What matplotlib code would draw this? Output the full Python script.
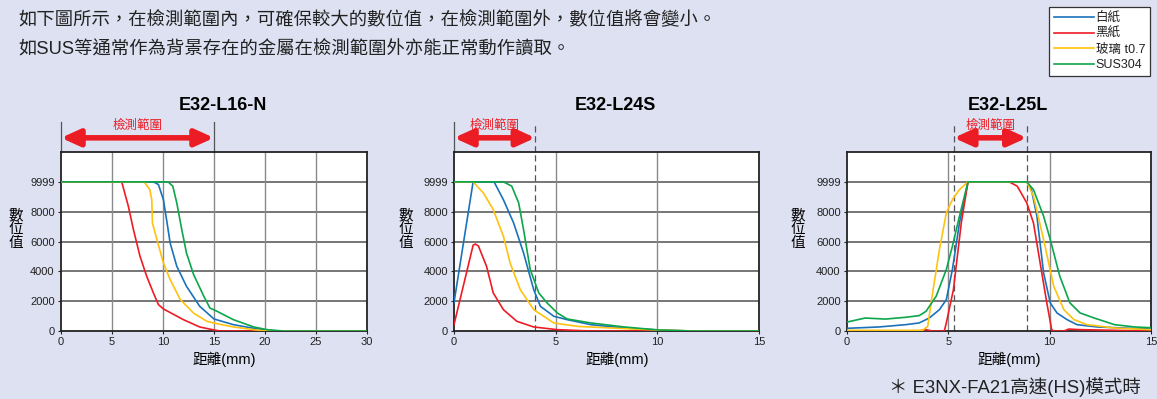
import numpy as np
import matplotlib
matplotlib.use("Agg")
import matplotlib.pyplot as plt
from matplotlib import font_manager
from matplotlib.lines import Line2D

# fonts: latin in an Arial-like face, CJK falls back to Noto
plt.rcParams['font.family'] = ['Liberation Sans', 'Noto Sans CJK TC', 'DejaVu Sans']
installed = {f.name for f in font_manager.fontManager.ttflist}
tick_family = ['Liberation Sans Narrow'] if 'Liberation Sans Narrow' in installed else ['Liberation Sans']

# colours
bg_color = '#dde1f1'
c_white = '#1a72bb'
c_black = '#ed1c24'
c_glass = '#ffc20e'
c_sus = '#0ca64b'
arrow_red = '#ec1c24'

series_names = ['白紙', '黑紙', '玻璃 t0.7', 'SUS304']

# ---- E32-L16-N ----
l16_white_x = [0, 9.06, 9.55, 10.04, 10.4, 10.7, 11.35, 12.3, 13.6, 15.0, 16.9, 18.9, 20.2, 21.2, 30]
l16_white_y = [9999, 9999, 9820, 8800, 7250, 5900, 4340, 3000, 1655, 805, 425, 180, 45, 0, 0]
l16_black_x = [0, 5.95, 6.6, 7.1, 7.75, 8.4, 9.06, 9.55, 10.04, 12.0, 13.6, 15.0, 15.6, 30]
l16_black_y = [9999, 9999, 8370, 6800, 5000, 3670, 2550, 1770, 1480, 760, 270, 70, 0, 0]
l16_glass_x = [0, 8.15, 8.7, 8.9, 8.96, 9.4, 10.04, 10.7, 11.7, 13.0, 14.3, 15.3, 16.9, 18.9, 20.2, 30]
l16_glass_y = [9999, 9999, 9480, 8800, 7250, 6130, 4560, 3445, 2100, 1200, 650, 490, 270, 90, 0, 0]
l16_sus_x = [0, 10.5, 10.96, 11.35, 11.84, 12.3, 13.0, 14.0, 14.6, 15.3, 16.9, 18.9, 20.2, 21.8, 30]
l16_sus_y = [9999, 9999, 9710, 8590, 6800, 5235, 3780, 2330, 1540, 1320, 760, 270, 90, 0, 0]

# ---- E32-L24S ----
l24_white_x = [0, 0.94, 1.97, 2.43, 2.93, 3.42, 3.92, 4.25, 4.91, 5.57, 6.73, 8.38, 10.04, 11.7, 15]
l24_white_y = [1900, 9999, 9999, 8800, 7250, 5235, 2770, 1655, 985, 760, 425, 200, 70, 0, 0]
l24_black_x = [0, 0.94, 1.05, 1.2, 1.6, 1.93, 2.43, 3.09, 3.92, 5.08, 6.73, 15]
l24_black_y = [425, 5750, 5830, 5700, 4340, 2550, 1430, 650, 270, 90, 0, 0]
l24_glass_x = [0, 0.94, 1.44, 1.93, 2.43, 2.76, 3.26, 3.92, 4.91, 6.07, 8.38, 10.04, 11.7, 15]
l24_glass_y = [9999, 9999, 9260, 8140, 6350, 4560, 2770, 1430, 540, 310, 160, 70, 0, 0]
l24_sus_x = [0, 2.43, 2.84, 3.18, 3.42, 3.75, 4.17, 4.58, 5.08, 5.57, 6.73, 8.38, 10.04, 11.7, 15]
l24_sus_y = [9999, 9999, 9710, 8590, 6800, 4116, 2550, 1880, 1210, 805, 540, 270, 70, 0, 0]

# ---- E32-L25L ----
l25_white_x = [0, 1.57, 2.9, 3.56, 4.06, 4.56, 4.9, 5.2, 5.55, 5.97, 8.87, 9.1, 9.37, 9.7, 10.03,
               10.36, 10.86, 11.35, 12.35, 14.0, 15]
l25_white_y = [180, 270, 425, 540, 870, 1430, 2100, 4120, 7250, 9999, 9999, 9480, 7700, 3900, 1880,
               1210, 760, 425, 270, 180, 130]
l25_black_x = [0, 3.5, 3.9, 4.2, 4.8, 4.9, 5.25, 5.64, 5.97, 8.0, 8.4, 8.87, 9.2, 9.53, 9.86,
               10.1, 10.2, 10.7, 10.94, 11.5, 15]
l25_black_y = [0, 0, 90, 0, 0, 540, 2770, 7250, 9999, 9999, 9710, 8590, 7250, 4560, 1880,
               90, 0, 0, 130, 90, 0]
l25_glass_x = [0, 3.73, 3.98, 4.2, 4.56, 4.9, 5.2, 5.55, 5.97, 8.87, 9.2, 9.7, 10.2, 10.7, 11.2,
               11.85, 13.2, 15]
l25_glass_y = [45, 45, 310, 2330, 5460, 7920, 8810, 9480, 9999, 9999, 9040, 6130, 3000, 1430, 760,
               425, 200, 90]
l25_sus_x = [0, 0.9, 1.9, 2.9, 3.56, 3.9, 4.4, 4.9, 5.2, 5.55, 5.97, 8.87, 9.2, 9.7, 10.03, 10.5,
             11.0, 11.5, 12.2, 13.2, 14.2, 15]
l25_sus_y = [600, 870, 800, 920, 1030, 1320, 2330, 4120, 5680, 7700, 9999, 9999, 9480, 7700, 6130, 3670,
             1880, 1210, 870, 425, 270, 220]

# panel settings
titles = ['E32-L16-N', 'E32-L24S', 'E32-L25L']
x_max = [30, 15, 15]
x_ticks = [[0, 5, 10, 15, 20, 25, 30], [0, 5, 10, 15], [0, 5, 10, 15]]
range_lo = [0, 0, 5.27]
range_hi = [15, 4, 8.87]
y_ticks = [0, 2000, 4000, 6000, 8000, 9999]

panel_data = [
    [(l16_white_x, l16_white_y), (l16_black_x, l16_black_y), (l16_glass_x, l16_glass_y), (l16_sus_x, l16_sus_y)],
    [(l24_white_x, l24_white_y), (l24_black_x, l24_black_y), (l24_glass_x, l24_glass_y), (l24_sus_x, l24_sus_y)],
    [(l25_white_x, l25_white_y), (l25_black_x, l25_black_y), (l25_glass_x, l25_glass_y), (l25_sus_x, l25_sus_y)],
]
colors = [c_white, c_black, c_glass, c_sus]

W, H = 1157, 399
fig = plt.figure(figsize=(W / 100, H / 100), dpi=100)
fig.patch.set_facecolor(bg_color)

# axes boxes in pixels (left, right)
boxes = [(61, 367), (454, 759), (847, 1151)]
ax_top, ax_bot = 152, 331

for i, (l, r) in enumerate(boxes):
    ax = fig.add_axes([l / W, (H - ax_bot) / H, (r - l) / W, (ax_bot - ax_top) / H])
    ax.set_facecolor('white')
    ax.set_xlim(0, x_max[i])
    ax.set_ylim(0, 12000)

    # grid
    for yv in y_ticks[1:]:
        ax.axhline(yv, color='#6b6b6b', lw=1.3, zorder=1)
    for xv in x_ticks[i][1:-1]:
        ax.axvline(xv, color='#8a8a8a', lw=1.0, zorder=1)

    for (xs, ys), c in zip(panel_data[i], colors):
        ax.plot(xs, ys, color=c, lw=1.2, zorder=3, solid_joinstyle='round')

    # detection range markers
    lo, hi = range_lo[i], range_hi[i]
    for xv in (lo, hi):
        if xv > 0 and i > 0:
            ax.axvline(xv, color='#555555', lw=0.9, ls=(0, (5, 3)), zorder=2)
        ax.plot([xv, xv], [12000, 14000], color='#555555', lw=0.9, clip_on=False,
                ls='-' if i == 0 or xv == 0 else (0, (5, 3)))
    ax.annotate('', xy=(lo, 12950), xytext=(hi, 12950), annotation_clip=False,
                arrowprops=dict(arrowstyle='<|-|>,head_length=1.1,head_width=0.5',
                                color=arrow_red, lw=4, shrinkA=0, shrinkB=0))
    ax.text((lo + hi) / 2, 13750, '檢測範圍', color=arrow_red, fontsize=9,
            ha='center', va='center', clip_on=False)

    ax.set_title(titles[i], fontsize=13, fontweight='bold', pad=30, x=0.53)

    ax.set_xticks(x_ticks[i])
    ax.set_yticks(y_ticks)
    ax.tick_params(length=2.5, width=0.8, pad=2, labelsize=8, colors='#222222')
    for lab in ax.get_xticklabels() + ax.get_yticklabels():
        lab.set_family(tick_family)
    for sp in ax.spines.values():
        sp.set_color('#222222')
        sp.set_linewidth(1.3)

    ax.text(0.535, -0.115, '距離(mm)', transform=ax.transAxes, ha='center', va='top', fontsize=10.5)

    # stacked vertical y label
    ylab_x = [16, 406, 798][i]
    fig.text(ylab_x / W, 1 - 229 / H, '數\n位\n值', ha='center', va='center', fontsize=10.5,
             linespacing=1.0)

# header text
fig.text(18 / W, 1 - 20 / H, '如下圖所示，在檢測範圍內，可確保較大的數位值，在檢測範圍外，數位值將會變小。',
         fontsize=13.2, va='center', ha='left', color='#222222')
fig.text(18 / W, 1 - 50 / H, '如SUS等通常作為背景存在的金屬在檢測範圍外亦能正常動作讀取。',
         fontsize=13.2, va='center', ha='left', color='#222222')

# footnote
fig.text(1141 / W, 1 - 387 / H, '＊ E3NX-FA21高速(HS)模式時', fontsize=13.3, ha='right', va='center',
         color='#222222')

# legend
handles = [Line2D([0], [0], color=c, lw=1.2) for c in colors]
leg = fig.legend(handles, series_names, loc='upper right', bbox_to_anchor=(1150 / W, 1 - 7 / H),
                 fontsize=9, frameon=True, fancybox=False, edgecolor='#333333', framealpha=1,
                 handlelength=3.2, handletextpad=0.15, labelspacing=0.3, borderpad=0.4,
                 borderaxespad=0)
leg.get_frame().set_linewidth(0.9)
for t in leg.get_texts():
    t.set_color('#222222')

fig.savefig('out.png', dpi=100, facecolor=bg_color)
